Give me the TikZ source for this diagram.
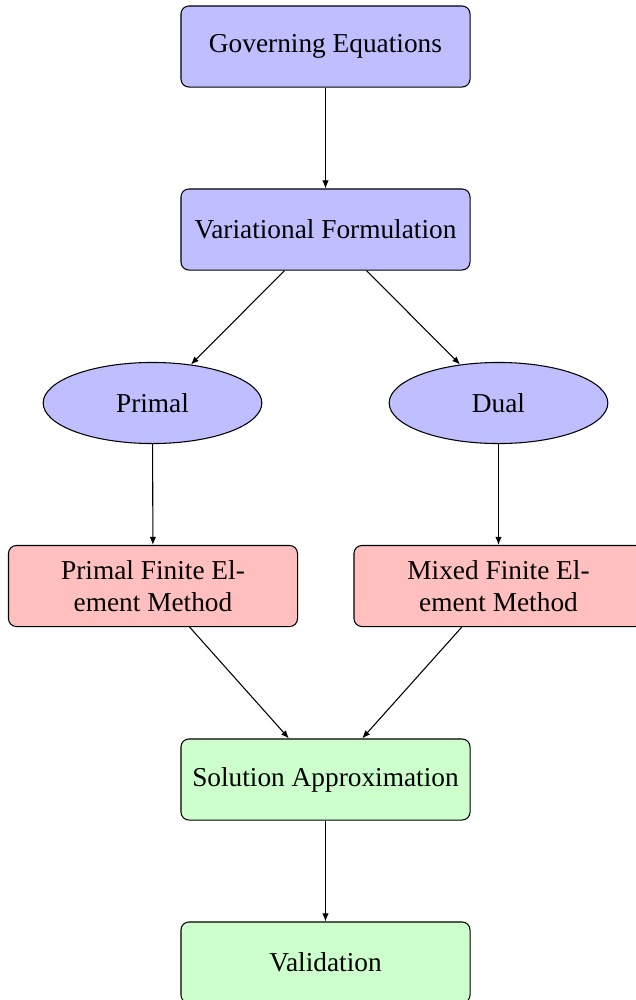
\documentclass[tikz,border=0pt]{standalone}
\usepackage{fontspec}
\setmainfont{Liberation Serif}
\usetikzlibrary{shapes.geometric,arrows.meta}
\begin{document}
\begin{tikzpicture}[x=0.375pt,y=-0.375pt,
  box/.style={draw=black,rounded corners=3pt,minimum width=108.4pt,minimum height=30.4pt,align=center,inner sep=2pt,font=\fontsize{10.25}{11.8}\selectfont},
  bluebox/.style={box,fill=blue!25},
  redbox/.style={box,fill=red!25},
  greenbox/.style={box,fill=green!20},
  ell/.style={draw=black,ellipse,fill=blue!25,minimum width=82pt,minimum height=30.4pt,inner sep=1pt,font=\fontsize{10.25}{12}\selectfont},
  arr/.style={-{Latex[length=3pt,width=2.4pt]},draw=black,line width=0.4pt}]
\useasboundingbox (0,0) rectangle (635,1000);
\node[bluebox] (gov) at (325.5,46.5) {Governing Equations};
\node[bluebox] (var) at (325.5,229.5) {Variational Formulation};
\node[ell] (primal) at (152.5,403) {Primal};
\node[ell] (dual) at (498.5,403) {Dual};
\node[redbox] (pfem) at (153,586) {Primal Finite El-\\ement Method};
\node[redbox] (mfem) at (498.5,586) {Mixed Finite El-\\ement Method};
\node[greenbox] (sol) at (325.5,779.5) {Solution Approximation};
\node[greenbox] (val) at (325.5,962.5) {Validation};
\draw[arr] (gov) -- (var);
\draw[arr] (var) -- (primal);
\draw[arr] (var) -- (dual);
\draw[arr] (primal) -- (pfem);
\draw[arr] (dual) -- (mfem);
\draw[arr] (pfem) -- (sol);
\draw[arr] (mfem) -- (sol);
\draw[arr] (sol) -- (val);
\end{tikzpicture}
\end{document}
